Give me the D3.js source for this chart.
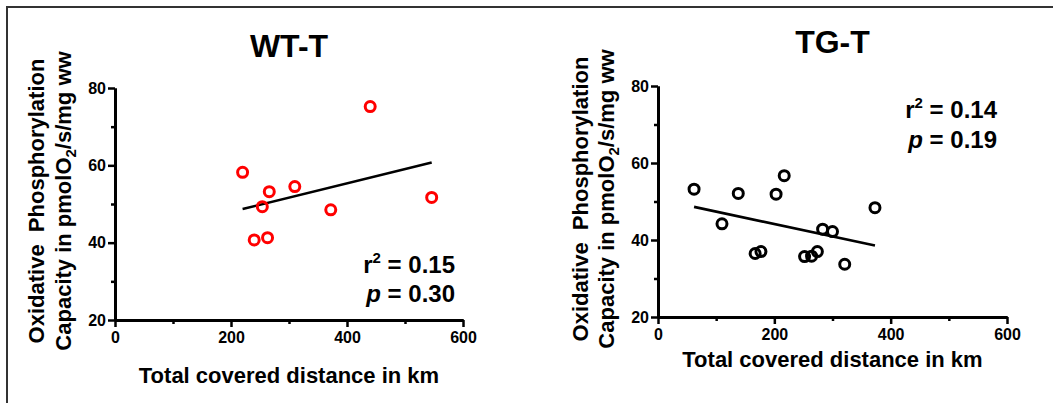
<!DOCTYPE html>
<html>
<head>
<meta charset="utf-8">
<script src="https://cdn.jsdelivr.net/npm/d3@7"></script>
<style>
    body { margin: 0; background: #fff; }
    svg text { font-family: "Liberation Sans", Arial, sans-serif; font-weight: bold; fill: #000; }
</style>
</head>
<body>
<svg id="chart" width="1053" height="403"></svg>
<script>
// Values
var wt_distance = [220, 440, 266, 310, 254, 372, 546, 240, 263];
var wt_capacity = [58.2, 75.2, 53.2, 54.5, 49.3, 48.5, 51.7, 40.7, 41.3];

var tg_distance = [62, 110, 138, 167, 177, 203, 217, 252, 264, 274, 283, 300, 321, 373];
var tg_capacity = [53.2, 44.2, 52.1, 36.5, 37.0, 51.9, 56.7, 35.7, 35.8, 37.0, 42.8, 42.2, 33.7, 48.4];

var x_ticks = [0, 200, 400, 600];
var x_minor_ticks = [100, 300, 500];
var y_ticks = [20, 40, 60, 80];
var y_minor_ticks = [30, 50, 70];

var panel_titles = ["WT-T", "TG-T"];
var r2_labels = ["0.15", "0.14"];
var p_labels = ["0.30", "0.19"];

var x_title = "Total covered distance in km";

var panels = [
    {
        title: panel_titles[0], x: wt_distance, y: wt_capacity, color: "#ff0000",
        r2: r2_labels[0], p: p_labels[0],
        left: 115, right: 463, top: 88, bottom: 320,
        title_y: 57, xtitle_y: 383, ylab_x: [44, 71], ylab_y: 201,
        stat_x: 455, stat_y: [273, 302]
    },
    {
        title: panel_titles[1], x: tg_distance, y: tg_capacity, color: "#000000",
        r2: r2_labels[1], p: p_labels[1],
        left: 658, right: 1007, top: 86, bottom: 317,
        title_y: 53, xtitle_y: 367, ylab_x: [588, 614], ylab_y: 199,
        stat_x: 997, stat_y: [118, 148]
    }
];

function linear_fit(xs, ys) {
    var mx = d3.mean(xs), my = d3.mean(ys);
    var sxy = 0, sxx = 0;
    xs.forEach(function(x, i) {
        sxy += (x - mx) * (ys[i] - my);
        sxx += (x - mx) * (x - mx);
    });
    var slope = sxy / sxx;
    return { slope: slope, intercept: my - slope * mx };
}

function draw_panel(svg, panel) {
    var x = d3.scaleLinear().domain([0, 600]).range([panel.left, panel.right]);
    var y = d3.scaleLinear().domain([20, 80]).range([panel.bottom, panel.top]);
    var g = svg.append("g");

    // minor ticks first, then the main axes on top
    g.append("g")
        .attr("transform", "translate(0," + panel.bottom + ")")
        .call(d3.axisBottom(x).tickValues(x_minor_ticks).tickSize(4).tickSizeOuter(0).tickFormat(""))
        .call(style_axis);
    g.append("g")
        .attr("transform", "translate(" + panel.left + ",0)")
        .call(d3.axisLeft(y).tickValues(y_minor_ticks).tickSize(4).tickSizeOuter(0).tickFormat(""))
        .call(style_axis);

    g.append("g")
        .attr("transform", "translate(0," + panel.bottom + ")")
        .call(d3.axisBottom(x).tickValues(x_ticks).tickSize(7).tickPadding(5).tickSizeOuter(0))
        .call(style_axis);
    g.append("g")
        .attr("transform", "translate(" + panel.left + ",0)")
        .call(d3.axisLeft(y).tickValues(y_ticks).tickSize(7).tickPadding(2).tickSizeOuter(0))
        .call(style_axis);

    // regression line over the range of the data
    var fit = linear_fit(panel.x, panel.y);
    var x_ext = d3.extent(panel.x);
    g.append("line")
        .attr("x1", x(x_ext[0]))
        .attr("y1", y(fit.intercept + fit.slope * x_ext[0]))
        .attr("x2", x(x_ext[1]))
        .attr("y2", y(fit.intercept + fit.slope * x_ext[1]))
        .attr("stroke", "#000")
        .attr("stroke-width", 2.6);

    g.append("g")
        .selectAll("circle")
        .data(panel.x)
        .enter().append("circle")
        .attr("cx", function(d) { return x(d); })
        .attr("cy", function(d, i) { return y(panel.y[i]); })
        .attr("r", 5)
        .attr("fill", "none")
        .attr("stroke", panel.color)
        .attr("stroke-width", 3);

    var cx = (panel.left + panel.right) / 2;

    g.append("text")
        .attr("x", cx)
        .attr("y", panel.title_y)
        .attr("text-anchor", "middle")
        .style("font-size", "32px")
        .text(panel.title);

    g.append("text")
        .attr("x", cx)
        .attr("y", panel.xtitle_y)
        .attr("text-anchor", "middle")
        .style("font-size", "22px")
        .text(x_title);

    // y axis title, two rotated lines
    g.append("text")
        .attr("transform", "translate(" + panel.ylab_x[0] + "," + panel.ylab_y + ")rotate(-90)")
        .attr("text-anchor", "middle")
        .style("font-size", "22px")
        .style("white-space", "pre")
        .text("Oxidative  Phosphorylation");

    var line2 = g.append("text")
        .attr("transform", "translate(" + panel.ylab_x[1] + "," + panel.ylab_y + ")rotate(-90)")
        .attr("text-anchor", "middle")
        .style("font-size", "22px");
    line2.append("tspan").text("Capacity in pmolO");
    line2.append("tspan").attr("dy", 5).style("font-size", "15px").text("2");
    line2.append("tspan").attr("dy", -5).text("/s/mg ww");

    // statistics
    var r2 = g.append("text")
        .attr("x", panel.stat_x)
        .attr("y", panel.stat_y[0])
        .attr("text-anchor", "end")
        .style("font-size", "24px");
    r2.append("tspan").text("r");
    r2.append("tspan").attr("dy", -10).style("font-size", "15px").text("2");
    r2.append("tspan").attr("dy", 10).text(" = " + panel.r2);

    var p = g.append("text")
        .attr("x", panel.stat_x)
        .attr("y", panel.stat_y[1])
        .attr("text-anchor", "end")
        .style("font-size", "24px");
    p.append("tspan").style("font-style", "italic").text("p");
    p.append("tspan").text(" = " + panel.p);
}

function style_axis(axis) {
    axis.select(".domain").attr("stroke", "#000").attr("stroke-width", 3);
    axis.selectAll(".tick line").attr("stroke", "#000").attr("stroke-width", 2.5);
    axis.selectAll(".tick text")
        .style("font-family", "'Liberation Sans', Arial, sans-serif")
        .style("font-weight", "bold")
        .style("font-size", "16px")
        .attr("fill", "#000");
}

var svg = d3.select("#chart");

// frame: only the top and left edges show in the picture
svg.append("path")
    .attr("d", "M7,403 L7,7 L1053,7")
    .attr("fill", "none")
    .attr("stroke", "#333")
    .attr("stroke-width", 2);

panels.forEach(function(panel) {
    draw_panel(svg, panel);
});
</script>
</body>
</html>
